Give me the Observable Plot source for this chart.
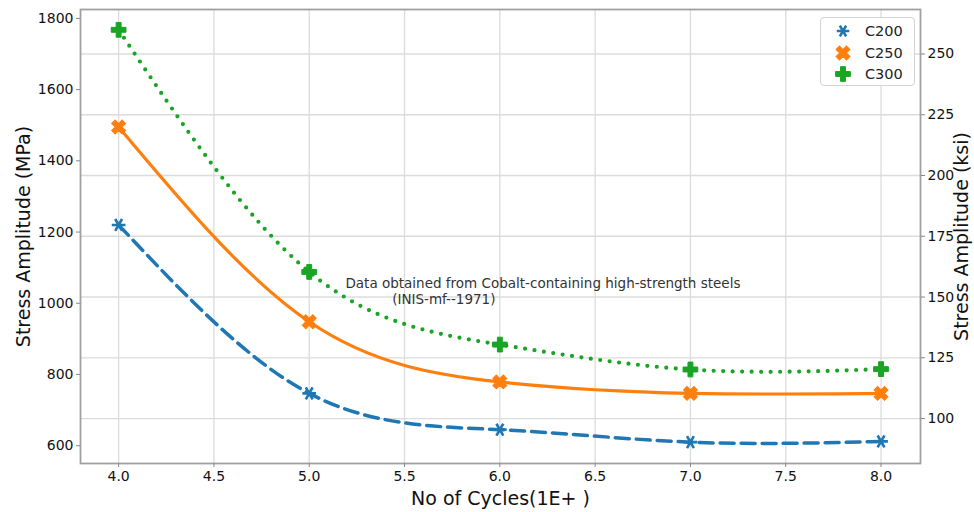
<!DOCTYPE html>
<html><head><meta charset="utf-8">
<script src="https://cdn.jsdelivr.net/npm/d3@7"></script>
<script src="https://cdn.jsdelivr.net/npm/@observablehq/plot@0.6"></script>
<style>
body{margin:0;background:#fff;}
#wrap{position:relative;width:974px;height:512px;font-family:"DejaVu Sans",sans-serif;}
g[aria-label="y-axis label"] text, g[aria-label="x-axis label"] text {font-size:19px;}
#legend{position:absolute;left:820px;top:17px;width:95px;height:69px;border:1px solid #d4d4d4;border-radius:4px;background:rgba(255,255,255,0.85);box-sizing:border-box;font-size:14.5px;color:#222;}
#legend .row{position:absolute;left:0;height:20px;display:flex;align-items:center;}
#legend svg{margin-left:14px;margin-right:14px;}
</style></head>
<body><div id="wrap"></div>
<script>
const cycles = [4, 5, 6, 7, 8];
const c200 = [1220, 747, 645, 610, 612];
const c250 = [1495, 948, 779, 747, 747];
const c300 = [1768, 1088, 884, 814, 815];
const seriesNames = ["C200", "C250", "C300"];
const xTicks = [4.0, 4.5, 5.0, 5.5, 6.0, 6.5, 7.0, 7.5, 8.0];
const mpaTicks = [600, 800, 1000, 1200, 1400, 1600, 1800];
const ksiTicks = [100, 125, 150, 175, 200, 225, 250];
const annotation = ["Data obtained from Cobalt-containing high-strength steels", "(INIS-mf--1971)"];

const colors = {C200: "#1f77b4", C250: "#ff7f0e", C300: "#18a523"};
const mpaDomain = [550, 1825];
const ksiDomain = [81.5, 268.3];
const ksiToMpa = k => mpaDomain[0] + (k - ksiDomain[0]) * (mpaDomain[1] - mpaDomain[0]) / (ksiDomain[1] - ksiDomain[0]);
const mpaToKsi = m => ksiDomain[0] + (m - mpaDomain[0]) * (ksiDomain[1] - ksiDomain[0]) / (mpaDomain[1] - mpaDomain[0]);

const rows = [];
[c200, c250, c300].forEach((vals, s) => cycles.forEach((c, i) => rows.push({series: seriesNames[s], x: c, y: vals[i]})));
const sel = n => rows.filter(d => d.series === n);

const chart = Plot.plot({
  width: 974, height: 512,
  marginLeft: 80, marginRight: 54, marginTop: 9, marginBottom: 49,
  style: {fontFamily: "DejaVu Sans, sans-serif", color: "#111", background: "#fff"},
  x: {domain: [3.8, 8.207], label: null},
  y: {domain: mpaDomain, label: null},
  marks: [
    Plot.gridX(xTicks, {stroke: "#dcdcdc", strokeOpacity: 1, strokeWidth: 1.3}),
    Plot.gridY(ksiTicks.map(ksiToMpa), {stroke: "#dcdcdc", strokeOpacity: 1, strokeWidth: 1.3}),
    Plot.frame({stroke: "#a0a0a0", strokeWidth: 1.8}),
    Plot.axisX(xTicks, {tickFormat: d => d.toFixed(1), tickSize: 4, tickPadding: 4, fontSize: 14, stroke: "#888",
      label: "No of Cycles(1E+ )", labelAnchor: "center", labelArrow: "none", labelOffset: 41}),
    Plot.axisY(mpaTicks, {anchor: "left", tickSize: 4, tickPadding: 3, fontSize: 14, stroke: "#888",
      tickFormat: d => String(d),
      label: "Stress Amplitude (MPa)", labelAnchor: "center", labelArrow: "none", labelOffset: 64}),
    Plot.axisY(ksiTicks.map(ksiToMpa), {anchor: "right", tickSize: 4, tickPadding: 3, fontSize: 14, stroke: "#888",
      tickFormat: d => String(Math.round(mpaToKsi(d))),
      label: "Stress Amplitude (ksi)", labelAnchor: "center", labelArrow: "none", labelOffset: 47}),
    Plot.line(sel("C200"), {x: "x", y: "y", curve: "natural", stroke: colors.C200, strokeWidth: 3.5, strokeDasharray: "14 7"}),
    Plot.line(sel("C250"), {x: "x", y: "y", curve: "natural", stroke: colors.C250, strokeWidth: 3.2}),
    Plot.line(sel("C300"), {x: "x", y: "y", curve: "natural", stroke: colors.C300, strokeWidth: 4.2, strokeDasharray: "0 9.5", strokeLinecap: "round"}),
    Plot.dot(sel("C200"), {x: "x", y: "y", symbol: "asterisk", rotate: 90, r: 6.5, stroke: colors.C200, strokeWidth: 2.6}),
    Plot.dot(sel("C250"), {x: "x", y: "y", symbol: "cross", rotate: 45, r: 6.2, fill: colors.C250, stroke: colors.C250, strokeWidth: 1}),
    Plot.dot(sel("C300"), {x: "x", y: "y", symbol: "cross", r: 6.2, fill: colors.C300, stroke: colors.C300, strokeWidth: 1}),
    Plot.text([annotation[0]], {x: 5.19, y: 1055, text: d => d, textAnchor: "start", fontSize: 13.5, fill: "#333"}),
    Plot.text([annotation[1]], {x: 5.435, y: 1011, text: d => d, textAnchor: "start", fontSize: 13.5, fill: "#333"})
  ]
});
const wrap = document.getElementById("wrap");
wrap.appendChild(chart);

// legend
const sym = {
  C200: d3.symbol(d3.symbolAsterisk, 110)(),
  C250: d3.symbol(d3.symbolCross, 120)(),
  C300: d3.symbol(d3.symbolCross, 120)()
};
const leg = document.createElement("div");
leg.id = "legend";
seriesNames.forEach((n, i) => {
  const row = document.createElement("div");
  row.className = "row";
  row.style.top = (3 + i * 21.5) + "px";
  const rot = n === "C200" ? 90 : n === "C250" ? 45 : 0;
  const paint = n === "C200" ? `fill="none" stroke="${colors[n]}" stroke-width="2.6"` : `fill="${colors[n]}" stroke="${colors[n]}" stroke-width="1"`;
  row.innerHTML = `<svg width="16" height="16" viewBox="-8 -8 16 16"><path d="${sym[n]}" transform="rotate(${rot})" ${paint}/></svg><span>${n}</span>`;
  leg.appendChild(row);
});
wrap.appendChild(leg);
</script>
</body></html>
